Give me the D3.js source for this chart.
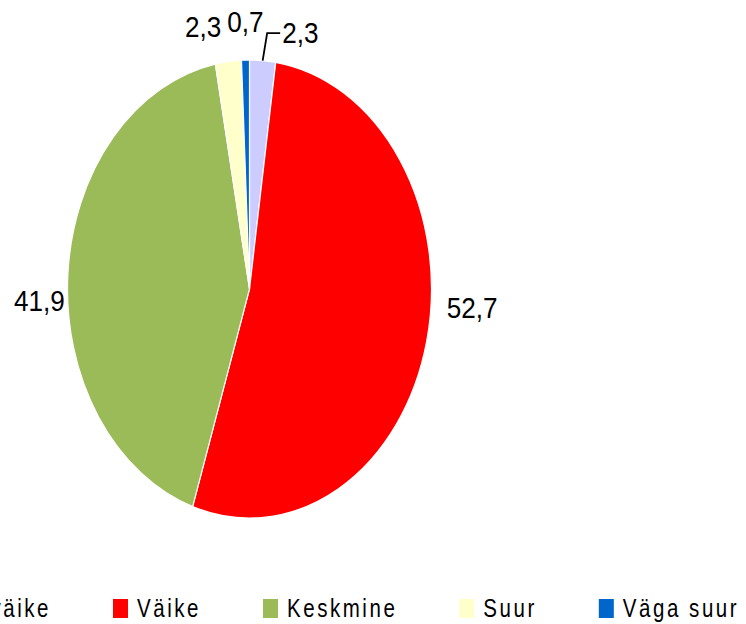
<!DOCTYPE html>
<html>
<head>
    <meta charset="utf-8">
    <script src="https://d3js.org/d3.v7.min.js" charset="utf-8"></script>
    <style>
        body { margin: 0; background: #fff; }
        text { font-family: "Liberation Sans", Arial, sans-serif; fill: #000; }
    </style>
</head>
<body>
    <script>
        var categories = ["Väga väike", "Väike", "Keskmine", "Suur", "Väga suur"];
        var values = [2.3, 52.7, 41.9, 2.3, 0.7];
        var colors = ["#ccccff", "#ff0000", "#9bbb59", "#ffffcc", "#0066cc"];

        var width = 746, height = 624;
        var cx = 249.5, cy = 289, rx = 182, ry = 229;

        var svg = d3.select("body")
            .append("svg")
            .attr("width", width)
            .attr("height", height)

        var pie = d3.pie().sort(null).value(function (d) { return d; });
        var arcs = pie(values);
        var arc = d3.arc().innerRadius(0).outerRadius(ry);

        var g = svg.append("g")
            .attr("transform", "translate(" + cx + "," + cy + ") scale(" + (rx / ry) + ",1)");

        g.selectAll("path")
            .data(arcs)
            .enter()
            .append("path")
            .attr("d", arc)
            .attr("fill", function (d, i) { return colors[i]; })
            .attr("stroke", "#fff")
            .attr("stroke-width", 1.2)
            .attr("vector-effect", "non-scaling-stroke");

        // point on the ellipse edge at the slice's middle angle
        function edgePoint(d) {
            var a = (d.startAngle + d.endAngle) / 2;
            return [cx + rx * Math.sin(a), cy - ry * Math.cos(a)];
        }

        // label placement, tuned to the reference
        var nudges = [
            { dx: 19.5, dy: -17.5, anchor: "start" },
            { dx: 20, dy: -23, anchor: "start" },
            { dx: -3, dy: 37, anchor: "end" },
            { dx: -7, dy: -24.5, anchor: "end" },
            { dx: 0, dy: -28, anchor: "middle" }
        ];

        // the reference font is narrow, so squeeze the text sideways
        var labelSqueeze = 0.9, legendSqueeze = 0.82;

        svg.selectAll("text.lbl")
            .data(arcs)
            .enter()
            .append("text")
            .attr("class", "lbl")
            .attr("transform", function (d, i) {
                var p = edgePoint(d);
                return "translate(" + (p[0] + nudges[i].dx) + "," + (p[1] + nudges[i].dy) + ") scale(" + labelSqueeze + ",1)";
            })
            .attr("text-anchor", function (d, i) { return nudges[i].anchor; })
            .style("font-size", "29px")
            .text(function (d) { return String(d.value).replace(".", ","); });

        // leader line for the first slice
        var p = edgePoint(arcs[0]);
        svg.append("path")
            .attr("d", "M" + p[0] + "," + p[1] + "L" + (p[0] + 4.5) + "," + (p[1] - 27.5) + "L" + (p[0] + 17.5) + "," + (p[1] - 27.5))
            .attr("fill", "none")
            .attr("stroke", "#000")
            .attr("stroke-width", 1.8);

        // legend along the bottom, first item runs off the left edge
        var legend = svg.append("g");
        var items = legend.selectAll("g")
            .data(categories)
            .enter()
            .append("g");
        items.append("rect")
            .attr("width", 15)
            .attr("height", 19)
            .attr("y", 599)
            .attr("fill", function (d, i) { return colors[i]; });
        items.append("text")
            .attr("transform", "translate(24,617) scale(" + legendSqueeze + ",1)")
            .style("font-size", "25px")
            .style("letter-spacing", "3.1px")
            .text(function (d) { return d; });

        var widths = [];
        items.select("text").each(function () { widths.push(this.getComputedTextLength() * legendSqueeze); });
        var x = 113 - (24 + widths[0] + 62);
        items.each(function (d, i) {
            d3.select(this).attr("transform", "translate(" + x + ",0)");
            x += 24 + widths[i] + 62;
        });
    </script>
</body>
</html>
